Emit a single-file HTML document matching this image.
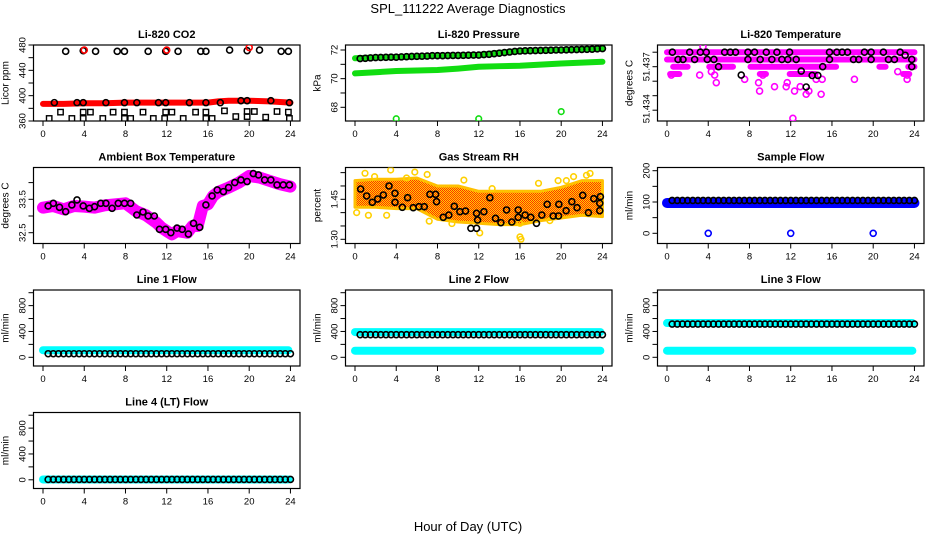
<!DOCTYPE html>
<html><head><meta charset="utf-8"><style>
html,body{margin:0;padding:0;background:#fff;}
svg{display:block;font-family:"Liberation Sans",Arial,sans-serif;}
</style></head><body>
<svg id="chart" width="936" height="540" viewBox="0 0 936 540" xmlns="http://www.w3.org/2000/svg">
<defs>
<pattern id="rhpat" width="2" height="2" patternUnits="userSpaceOnUse"><rect width="2" height="2" fill="#ffd000"/><rect width="1" height="1" fill="#ff3000"/><rect x="1" y="1" width="1" height="1" fill="#ff3000"/></pattern>
</defs>
<text x="468" y="13" text-anchor="middle" font-size="13">SPL_111222  Average Diagnostics</text>
<text x="468" y="531" text-anchor="middle" font-size="13">Hour of Day (UTC)</text>
</svg>
<script>
// ---------- shared ----------
const hourTicks = [0,4,8,12,16,20,24];
const halfHours = [0.5,1,1.5,2,2.5,3,3.5,4,4.5,5,5.5,6,6.5,7,7.5,8,8.5,9,9.5,10,10.5,11,11.5,12,12.5,13,13.5,14,14.5,15,15.5,16,16.5,17,17.5,18,18.5,19,19.5,20,20.5,21,21.5,22,22.5,23,23.5,24];
// ---------- CO2 ----------
const co2BandT = [0,2,4,6,8,10,12,14,16,17,18,20,22,24];
const co2BandV = [387,387,388,388,389,389,389,389,389,391,392,392,391,389];
const co2MidT = [1.1,3.3,3.9,6.1,7.9,9.1,11.2,11.9,14.2,15.8,17.2,19.2,19.8,22.1,23.9];
const co2MidV = [389,389,389,389,389,389,389,389,389,389,389,392,392,392,389];
const co2HighT = [2.2,3.9,5.1,7.2,7.9,10.2,11.9,13.1,15.3,15.8,18.1,19.8,21.0,23.1,23.8];
const co2HighV = [470,471,470,470,470,470,470,470,470,470,472,471,472,470,470];
const co2RedT = [4,12,20];
const co2RedV = [472,472,476];
const co2SqAT = [1.7,3.9,4.6,6.8,7.9,9.7,11.9,12.5,14.8,15.8,17.6,19.8,20.5,22.7,23.8];
const co2SqAV = [374,374,374,374,374,374,374,374,374,374,376,375,375,375,374];
const co2SqBT = [0.6,2.8,3.9,5.8,7.9,8.5,10.7,11.8,13.6,15.8,16.4,18.7,19.8,21.6,23.9];
const co2SqBV = [364,364,364,364,364,364,364,364,364,364,364,367,367,366,364];
// ---------- Pressure ----------
const presT = [0,2,4,6,8,10,12,14,16,18,20,22,24];
const presUpV = [71.42,71.48,71.5,71.55,71.6,71.62,71.65,71.8,71.93,71.97,72.0,72.05,72.1];
const presLoV = [70.37,70.45,70.53,70.57,70.6,70.7,70.83,70.87,70.9,70.98,71.06,71.12,71.18];
const presBlackV = [71.4,71.42,71.45,71.47,71.48,71.49,71.5,71.5,71.52,71.53,71.55,71.56,71.57,71.58,71.6,71.6,71.6,71.61,71.62,71.62,71.63,71.64,71.65,71.65,71.68,71.7,71.74,71.78,71.82,71.86,71.9,71.93,71.94,71.95,71.96,71.97,71.98,71.99,72.0,72.0,72.01,72.02,72.03,72.04,72.05,72.06,72.08,72.1];
const presOutT = [4,12,20];
const presOutV = [67.2,67.2,67.7];
// ---------- Li-820 temperature ----------
const tempRowV = [51.438,51.4375,51.437,51.437,51.437,51.437,51.437,51.4365,51.4365,51.4365,51.4365];
const tempRowS = [0,0,0.6,4.1,8.1,20.6,23.4,0.3,9.0,11.9,22.9];
const tempRowE = [24,24,2.0,6.4,16.4,21.2,24,1.2,9.6,14.4,23.5];
const tempMagT = [4.78,7.53,8.88,8.98,10.43,11.56,11.66,12.37,12.92,13.5,13.76,14.95,14.47,15.05,18.18,12.21,23.29,23.3,22.38,3.17,4.62,9.3,3.49,0.42,4.3];
const tempMagV = [51.4359,51.43613,51.4359,51.43532,51.43562,51.43562,51.4359,51.43532,51.43562,51.4351,51.43532,51.4351,51.43613,51.43613,51.43613,51.43344,51.43613,51.43642,51.43666,51.43642,51.43642,51.43642,51.43838,51.43642,51.43666];
const tempBlkT = [0.52,2.2,3.23,3.81,5.59,6.14,6.65,7.85,8.49,9.63,10.66,11.89,15.76,16.47,16.99,17.51,19.15,19.8,20.99,22.61,1.07,1.55,2.68,3.91,4.55,7.85,9.04,10.17,11.14,11.72,12.53,15.76,18.09,18.6,19.8,21.48,22.06,23.74,5.0,15.1,23.74,7.2,13.02,14.08,14.63,13.5,23.1];
const tempBlkV = [51.438,51.438,51.438,51.438,51.438,51.438,51.438,51.438,51.438,51.438,51.438,51.438,51.438,51.438,51.438,51.438,51.438,51.438,51.438,51.438,51.4375,51.4375,51.4375,51.4375,51.4375,51.4375,51.4375,51.4375,51.4375,51.4375,51.4375,51.4375,51.4375,51.4375,51.4375,51.4375,51.4375,51.4375,51.437,51.437,51.437,51.43642,51.4367,51.4364,51.4364,51.4356,51.43779];
// ---------- Ambient temperature ----------
const ambBandT = [0,1,2,3,4,5,6,7,8,9,10,11,11.5,12,12.5,13,14,14.5,15,15.5,16,16.5,17,18,19,20,21,22,23,24];
const ambBandV = [33.25,33.3,33.2,33.3,33.28,33.25,33.32,33.35,33.38,33.15,33.02,32.8,32.65,32.55,32.45,32.55,32.5,32.7,32.7,33.3,33.35,33.6,33.72,33.85,34.0,34.2,34.15,34.05,33.95,33.88];
const ambBlkT = [0.5,1,1.6,2.2,2.8,3.3,3.9,4.5,5,5.6,6.1,6.7,7.3,7.9,8.5,9.1,9.7,10.2,10.8,11.3,11.9,12.4,13,13.5,14.1,14.6,15.2,15.8,16.4,16.9,17.5,18,18.6,19.2,19.8,20.4,20.9,21.5,22.1,22.7,23.3,23.9];
const ambBlkV = [33.3,33.38,33.26,33.13,33.33,33.48,33.3,33.23,33.28,33.38,33.38,33.23,33.38,33.38,33.38,33.03,33.12,33.0,33.0,32.6,32.6,32.5,32.64,32.6,32.46,32.78,32.66,33.33,33.6,33.78,33.73,33.85,34.0,34.08,34.03,34.27,34.23,34.08,34.08,33.93,33.93,33.93];
// ---------- RH ----------
const rhBandT = [0,2,4,6,8,10,12,14,16,18,20,22,24];
const rhUpV = [1.52,1.525,1.525,1.53,1.50,1.50,1.48,1.48,1.48,1.48,1.495,1.52,1.52];
const rhLoV = [1.42,1.42,1.415,1.415,1.375,1.365,1.36,1.355,1.355,1.37,1.38,1.39,1.385];
const rhYelT = [0.97,3.46,5.8,7.0,10.56,16.0,16.1,12.1,9.4,7.2,0.16,1.3,3.07,19.7,21.2,22.45,22.8,16.0,17.8,1.9,5.0,13.3,18.9,20.5];
const rhYelV = [1.5475,1.56,1.552,1.543,1.522,1.309,1.3,1.324,1.359,1.368,1.40,1.39,1.39,1.52,1.535,1.54,1.547,1.36,1.51,1.535,1.53,1.49,1.37,1.52];
const rhBlkT = [0.55,1.13,1.68,2.2,2.75,3.3,3.88,3.88,4.59,5.1,5.65,6.2,6.72,7.27,7.82,7.91,8.56,9.1,9.63,10.17,10.72,11.24,11.79,11.79,11.89,12.5,13.08,13.63,14.15,14.7,15.21,15.83,15.83,16.5,17.05,17.6,18.12,18.64,19.22,19.74,19.77,20.48,21.03,21.54,22.09,22.64,23.16,23.8,23.74,23.74];
const rhBlkV = [1.4886,1.4624,1.4387,1.4511,1.4661,1.4999,1.4725,1.4387,1.42,1.456,1.4185,1.4223,1.4223,1.4687,1.4687,1.441,1.3825,1.391,1.4237,1.4035,1.406,1.3413,1.3413,1.3975,1.3724,1.4035,1.456,1.3787,1.3623,1.4099,1.3649,1.4099,1.3825,1.391,1.3825,1.36,1.391,1.4312,1.3874,1.3874,1.4312,1.4073,1.441,1.4185,1.465,1.3998,1.4522,1.4597,1.435,1.4073];
// ---------- Sample flow ----------
const sfBandV = [97,97];
const sfBandT = [0,24];
const sfBlkV = 105;
const sfOutT = [4,12,20];
const sfOutV = [0,0,0];
// ---------- Line flows ----------
const l1BandV = [110]; const l1BlkV = [55];
const l2BandV = [390,102]; const l2BlkV = [350];
const l3BandV = [530,102]; const l3BlkV = [515];
const l4BandV = [5]; const l4BlkV = [5];

const NS = 'http://www.w3.org/2000/svg';
const svg = document.getElementById('chart');
function add(parent, tag, attrs, name) {
  const el = document.createElementNS(NS, tag);
  for (const k in attrs) el.setAttribute(k, attrs[k]);
  
  
  parent.appendChild(el);
  return el;
}
const colL = [33.5, 345.5, 657.5];
const rowT = [45, 167.5, 290, 412.5];
const W = 266.5, H = 76;

function panel(col, row, title, ylab, yA, yB, ticks, labels, labelText) {
  const L = colL[col], T = rowT[row];
  const g = add(svg, 'g', {}, 'panel-' + title.toLowerCase().replace(/[^a-z0-9]+/g, '-'));
  const xs = t => L + 9.5 + t * 10.31;
  const ys = v => T + yA[1] + (v - yA[0]) * (yB[1] - yA[1]) / (yB[0] - yA[0]);
  add(g, 'rect', {x: L, y: T, width: W, height: H, fill: 'none', stroke: '#000', 'stroke-width': 1.2}, 'plot-box');
  const tt = add(g, 'text', {x: L + W / 2, y: T - 7, 'text-anchor': 'middle', 'font-size': 11, 'font-weight': 'bold'}, 'panel-title');
  tt.textContent = title;
  const yl = add(g, 'text', {transform: `translate(${L - 25},${T + H / 2}) rotate(-90)`, 'text-anchor': 'middle', 'font-size': 10}, 'y-axis-title');
  yl.textContent = ylab;
  hourTicks.forEach(h => {
    add(g, 'line', {x1: xs(h), x2: xs(h), y1: T + H, y2: T + H + 5, stroke: '#000'}, 'x-tick');
    const tx = add(g, 'text', {x: xs(h), y: T + H + 16, 'text-anchor': 'middle', 'font-size': 9.5}, 'x-tick-label');
    tx.textContent = h;
  });
  ticks.forEach(v => {
    add(g, 'line', {x1: L - 5, x2: L, y1: ys(v), y2: ys(v), stroke: '#000'}, 'y-tick');
  });
  labels.forEach((v, i) => {
    const tx = add(g, 'text', {transform: `translate(${L - 8},${ys(v)}) rotate(-90)`, 'text-anchor': 'middle', 'font-size': 9.5}, 'y-tick-label');
    tx.textContent = labelText ? labelText[i] : v;
  });
  const clip = add(g, 'clipPath', {id: 'clip' + col + row}, 'clip');
  add(clip, 'rect', {x: L, y: T, width: W, height: H}, 'clip-rect');
  const d = add(g, 'g', {'clip-path': `url(#clip${col}${row})`}, 'data-layer');
  return {g: d, xs, ys};
}
function band(p, T, V, color, w, name) {
  const pts = T.map((t, i) => p.xs(t) + ',' + p.ys(V[i])).join(' ');
  add(p.g, 'polyline', {points: pts, fill: 'none', stroke: color, 'stroke-width': w, 'stroke-linecap': 'round', 'stroke-linejoin': 'round'}, name);
}
function circles(p, T, V, color, r, name) {
  T.forEach((t, i) => {
    add(p.g, 'circle', {cx: p.xs(t), cy: p.ys(V[i]), r: r, fill: 'none', stroke: color, 'stroke-width': 1.6}, name);
  });
}
function squares(p, T, V, name) {
  T.forEach((t, i) => {
    add(p.g, 'rect', {x: p.xs(t) - 2.7, y: p.ys(V[i]) - 2.7, width: 5.4, height: 5.4, fill: 'none', stroke: '#000', 'stroke-width': 1.4}, name);
  });
}

// CO2
let p = panel(0, 0, 'Li-820 CO2', 'Licor ppm', [480, 0], [360, 76], [360,380,400,420,440,460,480], [360,400,440,480]);
band(p, co2BandT, co2BandV, '#ff0000', 6, 'co2-band');
circles(p, co2MidT, co2MidV, '#000', 3, 'co2-point');
circles(p, co2HighT, co2HighV, '#000', 3, 'co2-high-point');
circles(p, co2RedT, co2RedV, '#ff0000', 3, 'co2-red-point');
squares(p, co2SqAT, co2SqAV, 'co2-square');
squares(p, co2SqBT, co2SqBV, 'co2-square');

// Pressure
p = panel(1, 0, 'Li-820 Pressure', 'kPa', [72, 5], [68, 62.3], [68,69,70,71,72], [68,70,72]);
band(p, presT, presUpV, '#11dd11', 6, 'pressure-upper-band');
band(p, presT, presLoV, '#11dd11', 6, 'pressure-lower-band');
circles(p, halfHours, presBlackV, '#000', 3, 'pressure-point');
circles(p, presOutT, presOutV, '#11dd11', 2.8, 'pressure-outlier');

// Li-820 temp
p = panel(2, 0, 'Li-820 Temperature', 'degrees C', [51.437, 21.7], [51.434, 65.2], [51.438,51.437,51.436,51.435,51.434], [51.437,51.4341], ['51.437','51.434']);
tempRowV.forEach((v, i) => {
  band(p, [tempRowS[i], tempRowE[i]], [v, v], '#ff00ff', 6, 'temperature-row');
});
circles(p, tempMagT, tempMagV, '#ff00ff', 3, 'temperature-magenta-point');
circles(p, tempBlkT, tempBlkV, '#000', 3, 'temperature-point');

// Ambient
p = panel(0, 1, 'Ambient Box Temperature', 'degrees C', [33.5, 31.8], [32.5, 65.2], [32.5,33,33.5,34], [32.5,33.5]);
band(p, ambBandT, ambBandV, '#ff00ff', 12, 'ambient-band');
circles(p, ambBlkT, ambBlkV, '#000', 3, 'ambient-point');

// RH
p = panel(1, 1, 'Gas Stream RH', 'percent', [1.45, 31.8], [1.30, 71.8], [1.30,1.35,1.40,1.45,1.50,1.55], [1.30,1.45], ['1.30','1.45']);
{
  const up = rhBandT.map((t, i) => p.xs(t) + ',' + p.ys(rhUpV[i]));
  const lo = rhBandT.map((t, i) => p.xs(t) + ',' + p.ys(rhLoV[i])).reverse();
  add(p.g, 'polygon', {points: up.concat(lo).join(' '), fill: 'url(#rhpat)', stroke: '#ffc000', 'stroke-width': 3, 'stroke-linejoin': 'round'}, 'rh-band');
}
circles(p, rhYelT, rhYelV, '#ffd000', 2.8, 'rh-outlier');
circles(p, rhBlkT, rhBlkV, '#000', 3, 'rh-point');

// Sample flow
p = panel(2, 1, 'Sample Flow', 'ml/min', [0, 65.8], [200, 3.2], [0,50,100,150,200], [0,100,200]);
band(p, sfBandT, sfBandV, '#0000ff', 10, 'sample-flow-band');
circles(p, halfHours, halfHours.map(() => sfBlkV), '#000', 3, 'sample-flow-point');
circles(p, sfOutT, sfOutV, '#0000ff', 3, 'sample-flow-outlier');

// Line flows
const flowTicks = [0,200,400,600,800,1000], flowLabels = [0,400,800];
[[0, 2, 'Line 1 Flow', l1BandV, l1BlkV], [1, 2, 'Line 2 Flow', l2BandV, l2BlkV], [2, 2, 'Line 3 Flow', l3BandV, l3BlkV], [0, 3, 'Line 4 (LT) Flow', l4BandV, l4BlkV]].forEach(cfg => {
  const q = panel(cfg[0], cfg[1], cfg[2], 'ml/min', [0, 67.3], [1000, 2.7], flowTicks, flowLabels);
  cfg[3].forEach(v => band(q, [0, 23.8], [v, v], '#00ffff', 8, 'flow-band'));
  cfg[4].forEach(v => circles(q, halfHours, halfHours.map(() => v), '#000', 3, 'flow-point'));
});
</script>
</body></html>
